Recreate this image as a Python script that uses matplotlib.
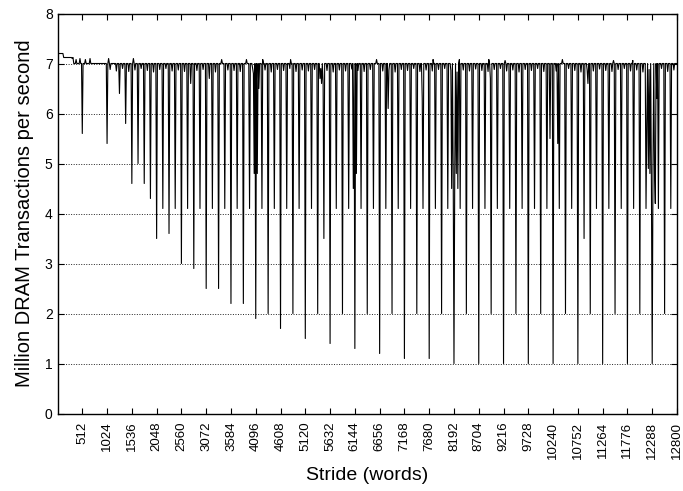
import numpy as np
import matplotlib
matplotlib.use("Agg")
import matplotlib.pyplot as plt

plt.rcParams['font.family'] = ['Liberation Sans', 'DejaVu Sans']

# strides where the rate drops sharply, with the rate reached there
dip_stride = [512, 1024, 1280, 1408, 1536, 1664, 1792, 1920,
              2048, 2176, 2304, 2432, 2560, 2688, 2816, 2944,
              3072, 3200, 3328, 3456, 3584, 3712, 3840, 3968,
              4096, 4224, 4352, 4480, 4608, 4736, 4864, 4992,
              5120, 5248, 5376, 5504, 5632, 5760, 5888, 6016,
              6144, 6272, 6400, 6528, 6656, 6784, 6912, 7040,
              7168, 7296, 7424, 7552, 7680, 7808, 7936, 8064,
              8192, 8320, 8448, 8576, 8704, 8832, 8960, 9088,
              9216, 9344, 9472, 9600, 9728, 9856, 9984, 10112,
              10240, 10368, 10496, 10624, 10752, 10880, 11008, 11136,
              11264, 11392, 11520, 11648, 11776, 11904, 12032, 12160,
              12288, 12416, 12544, 12672]
dip_rate = [5.6, 5.4, 6.4, 5.8, 4.6, 5.0, 4.6, 4.3,
            3.5, 4.1, 3.6, 4.1, 3.0, 4.1, 2.9, 4.1,
            2.5, 4.1, 2.5, 4.1, 2.2, 4.1, 2.2, 4.1,
            1.9, 4.1, 2.0, 4.1, 1.7, 4.1, 2.0, 4.1,
            1.5, 4.1, 2.0, 3.5, 1.4, 4.1, 2.0, 4.1,
            1.3, 4.1, 2.0, 4.1, 1.2, 4.1, 2.0, 4.1,
            1.1, 4.1, 2.0, 4.1, 1.1, 4.1, 2.0, 4.1,
            1.0, 4.1, 2.0, 4.1, 1.0, 4.1, 2.0, 4.1,
            1.0, 4.1, 2.0, 4.1, 1.0, 4.1, 2.0, 4.1,
            1.0, 4.1, 2.0, 4.1, 1.0, 3.5, 2.0, 4.1,
            1.0, 4.1, 2.0, 4.1, 1.0, 4.1, 2.0, 4.1,
            1.0, 4.1, 2.0, 4.1]

# shallow dips halfway between the sharp ones (strides 1088, 1216, ... 12736)
minor_rate = [6.88, 6.85, 6.9, 6.84, 6.87, 6.9, 6.86, 6.83, 6.88, 6.9,
              6.85, 6.87, 6.84, 6.9, 6.86, 6.88, 6.85, 6.83, 6.9, 6.87,
              6.86, 6.84, 6.88, 6.9, 6.85, 6.87, 6.83, 6.88, 6.86, 6.9,
              6.84, 6.87, 6.85, 6.88, 6.9, 6.86, 6.83, 6.87, 6.85, 6.89,
              6.86, 6.84, 6.88, 6.9, 6.85, 6.87, 6.83, 6.88, 6.86, 6.9,
              6.84, 6.87, 6.85, 6.88, 6.9, 6.86, 6.83, 6.87, 6.85, 6.89,
              6.86, 6.84, 6.88, 6.9, 6.85, 6.87, 6.83, 6.88, 6.86, 6.9,
              6.84, 6.87, 6.85, 6.88, 6.9, 6.86, 6.83, 6.87, 6.85, 6.89,
              6.86, 6.84, 6.88, 6.9, 6.85, 6.87, 6.83, 6.88, 6.86, 6.9,
              6.84, 6.87]

# dense conflicts around the power-of-two strides and a few stray drops
extra_stride = [2752, 3136,
                4048, 4064, 4128, 4160,
                5424, 5456, 5488,
                6112, 6176, 6832, 7536,
                8144, 8176, 8208, 8240, 8272,
                8944, 10176, 10336, 10960,
                12176, 12208, 12240, 12272, 12304, 12336, 12352, 12384]
extra_rate = [6.6, 6.7,
              6.8, 4.8, 4.8, 6.5,
              6.7, 6.6, 6.6,
              4.5, 4.8, 6.1, 6.3,
              4.5, 4.8, 4.8, 4.8, 4.5,
              6.7, 5.5, 5.4, 6.6,
              5.8, 4.9, 4.8, 4.5, 4.9, 4.8, 4.2, 6.3]

# small upward blips above the plateau
spike_stride = [304, 384, 464, 576, 672, 1056, 1568, 3392, 3904, 4240,
                4816, 6592, 7760, 8304, 8912, 9248, 10432, 11488, 11888]
spike_rate = [7.1, 7.08, 7.1, 7.08, 7.1, 7.1, 7.1, 7.08, 7.08, 7.08,
              7.08, 7.08, 7.08, 7.08, 7.08, 7.06, 7.08, 7.06, 7.06]

# plateau levels: (start, end, rate)
plateau = [(0, 112, 7.2), (120, 320, 7.12), (328, 12800, 7.0)]

x_ticks = [512, 1024, 1536, 2048, 2560, 3072, 3584, 4096, 4608, 5120,
           5632, 6144, 6656, 7168, 7680, 8192, 8704, 9216, 9728, 10240,
           10752, 11264, 11776, 12288, 12800]

# stride sampled every 16 words
stride = np.arange(0, 12801, 16)
rate = np.zeros(len(stride))
for lo, hi, lvl in plateau:
    rate[(stride >= lo) & (stride <= hi)] = lvl

lookup = {s: i for i, s in enumerate(stride)}
minor_stride = list(range(1088, 12800, 128))
for s, v in zip(minor_stride, minor_rate):
    rate[lookup[s]] = v
for s, v in zip(spike_stride, spike_rate):
    rate[lookup[s]] = v
for s, v in zip(extra_stride, extra_rate):
    rate[lookup[s]] = v
for s, v in zip(dip_stride, dip_rate):
    rate[lookup[s]] = v

fig = plt.figure(figsize=(6.83, 4.91), dpi=100)
ax = fig.add_axes([0.0842, 0.1578, 0.9070, 0.8147])

for y in range(1, 8):
    ax.axhline(y, color='#222222', lw=0.7, linestyle=(0, (1, 1.6)), zorder=1)

ax.plot(stride, rate, color='black', lw=0.8, zorder=3)

ax.set_xlim(0, 12800)
ax.set_ylim(0, 8)
ax.set_xticks(x_ticks)
ax.set_xticklabels([str(t) for t in x_ticks], rotation=90, fontsize=9.5)
ax.set_yticks(range(0, 9))
ax.tick_params(axis='y', labelsize=10, direction='in', length=4, right=True)
ax.tick_params(axis='x', direction='in', length=4, top=True, pad=6)

for sp in ax.spines.values():
    sp.set_linewidth(1.0)

ax.set_xlabel('Stride (words)', fontsize=14, labelpad=6)
ax.set_ylabel('Million DRAM Transactions per second', fontsize=14.5, labelpad=8)

fig.savefig('out.png', dpi=100)
